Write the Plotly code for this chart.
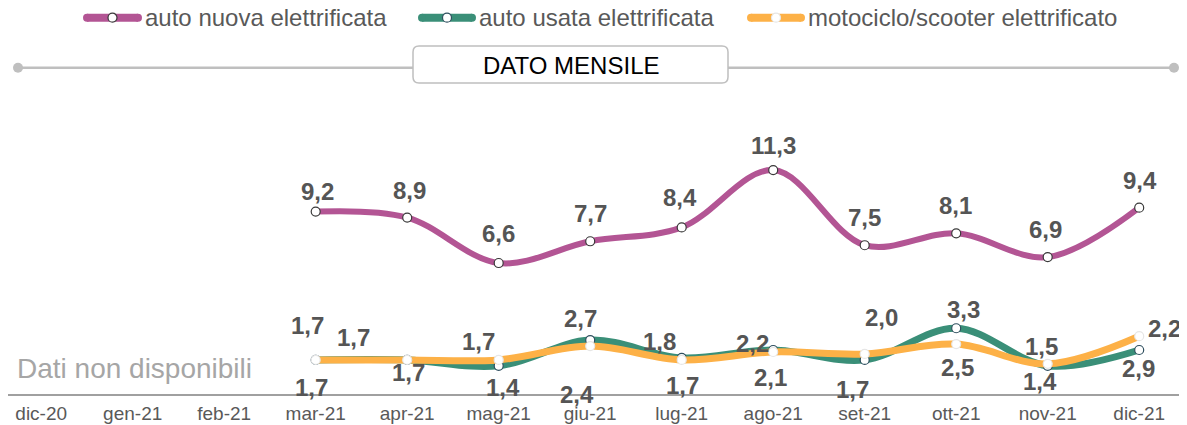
import plotly.graph_objects as go

# monthly values (share %, comma decimals in labels)
months = ['dic-20', 'gen-21', 'feb-21', 'mar-21', 'apr-21', 'mag-21', 'giu-21',
          'lug-21', 'ago-21', 'set-21', 'ott-21', 'nov-21', 'dic-21']
auto_nuova = [None, None, None, 9.2, 8.9, 6.6, 7.7, 8.4, 11.3, 7.5, 8.1, 6.9, 9.4]
auto_usata = [None, None, None, 1.7, 1.7, 1.4, 2.7, 1.8, 2.2, 1.7, 3.3, 1.4, 2.2]
moto_scooter = [None, None, None, 1.7, 1.7, 1.7, 2.4, 1.7, 2.1, 2.0, 2.5, 1.5, 2.9]

series_names = ['auto nuova elettrificata', 'auto usata elettrificata', 'motociclo/scooter elettrificato']
colors = ['#B35594', '#3A8F78', '#FDB147']
line_widths = [6, 7, 7]
marker_edges = ['#3A3A3A', '#2F4F5F', '#E6E6E6']

# label offsets in pixels (xshift, yshift), hand placed like the original
label_shifts = [
    [(0, 0)] * 3 + [(2, 20), (2, 27), (0, 30), (0, 28), (-2, 30), (0, 25), (0, 28), (-1, 28), (-2, 28), (1, 27)],
    [(0, 0)] * 3 + [(-8, 34), (-54, 22), (4, -22), (-10, 22), (-22, 16), (-21, 7), (-12, -30), (7, 19), (-8, -16), (25, 22)],
    [(0, 0)] * 3 + [(-4, -28), (1, -13), (-20, 18), (-13, -48), (1, -26), (-3, -26), (17, 36), (1, -23), (-6, 17), (-1, -32)],
]

# the page puts the figure 8px in from the top-left corner
OFF = 8
W, H = 1187 - OFF, 425 - OFF
FONT = 'Liberation Sans, Arial, sans-serif'


def px(x):
    return (x - OFF) / W


def py(y):
    return 1 - (y - OFF) / H


fig = go.Figure()

for name, vals, col, lw, edge in zip(series_names, [auto_nuova, auto_usata, moto_scooter],
                                     colors, line_widths, marker_edges):
    fig.add_trace(go.Scatter(
        x=months, y=vals, name=name, mode='lines+markers',
        line=dict(color=col, width=lw, shape='spline', smoothing=1),
        marker=dict(size=9, color='white', line=dict(color=edge, width=1.2)),
        showlegend=False, hoverinfo='skip'
    ))

# data labels
annotations = []
for vals, shifts in zip([auto_nuova, auto_usata, moto_scooter], label_shifts):
    for m, v, (xs, ys) in zip(months, vals, shifts):
        if v is None:
            continue
        annotations.append(dict(
            x=m, y=v, xref='x', yref='y', text=f'{v:.1f}'.replace('.', ','),
            showarrow=False, xshift=xs, yshift=ys,
            font=dict(size=24, color='#555555', family=FONT, weight='bold')
        ))

# custom legend at the top
shapes = []
legend_pills = [(83, 142), (418, 476), (747, 805)]
legend_y = 17.7
for (x0, x1), col, edge, name in zip(legend_pills, colors, marker_edges, series_names):
    shapes.append(dict(type='line', xref='paper', yref='paper',
                       x0=px(x0 + 4), x1=px(x1 - 4), y0=py(legend_y), y1=py(legend_y),
                       line=dict(color=col, width=8)))
    for xe in (x0 + 4, x1 - 4):
        shapes.append(dict(type='circle', xref='paper', yref='paper',
                           xsizemode='pixel', ysizemode='pixel',
                           xanchor=px(xe), yanchor=py(legend_y),
                           x0=-4, x1=4, y0=-4, y1=4,
                           fillcolor=col, line=dict(width=0)))
    xm = (x0 + x1) / 2
    shapes.append(dict(type='circle', xref='paper', yref='paper',
                       xsizemode='pixel', ysizemode='pixel',
                       xanchor=px(xm), yanchor=py(legend_y),
                       x0=-4.5, x1=4.5, y0=-4.5, y1=4.5,
                       fillcolor='white', line=dict(color=edge, width=1.2)))
    annotations.append(dict(x=px(x1 + 1), y=py(legend_y), xref='paper', yref='paper',
                            xanchor='left', yanchor='middle', showarrow=False, text=name,
                            font=dict(size=24, color='#595959', family=FONT)))

# separator line with the "DATO MENSILE" box
sep_y = 67.7
shapes.append(dict(type='line', xref='paper', yref='paper',
                   x0=px(18), x1=px(1174), y0=py(sep_y), y1=py(sep_y),
                   line=dict(color='#BFBFBF', width=2.5)))
for xe in (18, 1174):
    shapes.append(dict(type='circle', xref='paper', yref='paper',
                       xsizemode='pixel', ysizemode='pixel',
                       xanchor=px(xe), yanchor=py(sep_y),
                       x0=-5, x1=5, y0=-5, y1=5,
                       fillcolor='#BFBFBF', line=dict(width=0)))

bx0, bx1, by0, by1, r = 413, 728, 46, 83, 6
path = (f'M {px(bx0 + r)},{py(by0)} L {px(bx1 - r)},{py(by0)} '
        f'Q {px(bx1)},{py(by0)} {px(bx1)},{py(by0 + r)} L {px(bx1)},{py(by1 - r)} '
        f'Q {px(bx1)},{py(by1)} {px(bx1 - r)},{py(by1)} L {px(bx0 + r)},{py(by1)} '
        f'Q {px(bx0)},{py(by1)} {px(bx0)},{py(by1 - r)} L {px(bx0)},{py(by0 + r)} '
        f'Q {px(bx0)},{py(by0)} {px(bx0 + r)},{py(by0)} Z')
shapes.append(dict(type='path', xref='paper', yref='paper', path=path,
                   fillcolor='white', line=dict(color='#BFBFBF', width=1.5)))
annotations.append(dict(x=px((bx0 + bx1) / 2), y=py(65.5), xref='paper', yref='paper',
                        xanchor='center', yanchor='middle', showarrow=False,
                        text='DATO MENSILE', font=dict(size=24, color='#000000', family=FONT)))

annotations.append(dict(x=px(15), y=py(368), xref='paper', yref='paper',
                        xanchor='left', yanchor='middle', showarrow=False,
                        text='Dati non disponibili',
                        font=dict(size=28, color='#A6A6A6', family=FONT)))

# plot area: zero line at y=393.5px, 19.77 px per unit (reference pixels)
zero_px, top_px, unit_px = 393.5, 100, 19.77
x_first, x_step = 41.2, 91.5

fig.update_layout(
    width=W, height=H,
    margin=dict(l=0, r=0, t=0, b=0),
    paper_bgcolor='white', plot_bgcolor='white',
    font=dict(family=FONT, color='#595959'),
    xaxis=dict(
        domain=[0, 1],
        range=[(OFF - x_first) / x_step, (1187 - x_first) / x_step],
        showline=True, linecolor='#A0A0A0', linewidth=1.5,
        showgrid=False, zeroline=False, ticks='', ticklabelstandoff=2,
        tickfont=dict(size=19, color='#595959', family=FONT),
    ),
    yaxis=dict(
        domain=[1 - (zero_px - OFF) / H, 1 - (top_px - OFF) / H],
        range=[0, (zero_px - top_px) / unit_px],
        visible=False, showgrid=False, zeroline=False,
    ),
    shapes=shapes,
    annotations=annotations,
    showlegend=False,
)

fig.write_html('out.html')
